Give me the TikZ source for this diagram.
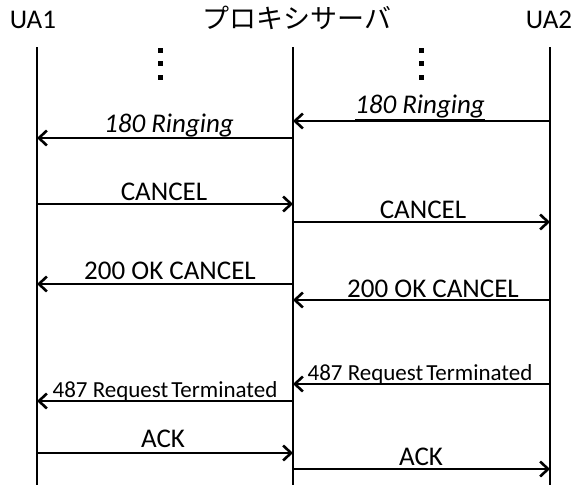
\documentclass[tikz,border=0pt]{standalone}
\usepackage{fontspec}
\setmainfont{Carlito}
\newfontfamily\jpfont{Noto Sans CJK JP}
\usetikzlibrary{arrows.meta}
\begin{document}
\begin{tikzpicture}[x=1pt,y=-1pt,
  life/.style={line width=2.2pt},
  msg/.style={line width=2.8pt,-{Straight Barb[length=8pt,width=15pt,line width=2.6pt]}},
  lbl/.style={font=\fontsize{27}{30}\selectfont,inner sep=0pt,anchor=base},
  hdr/.style={font=\fontsize{27}{30}\selectfont,inner sep=0pt,anchor=base},
  dot/.style={fill=black}]
\useasboundingbox (0,0) rectangle (580,485);
\fill[white] (0,0) rectangle (580,485);
% headers
\node[hdr] (h1) at (33,28) {UA1};
\node[hdr] (h2) at (297,28) {\jpfont プロキシサーバ};
\node[hdr] (h3) at (549,28) {UA2};
% lifelines
\coordinate (u1t) at (37,47);  \coordinate (u1b) at (37,485);
\coordinate (pt) at (293,47);  \coordinate (pb) at (293,485);
\coordinate (u2t) at (550,47); \coordinate (u2b) at (550,485);
\draw[life] (u1t) -- (u1b);
\draw[life] (pt) -- (pb);
\draw[life] (u2t) -- (u2b);
% vertical dots
\foreach \yy in {50,63,77}{
  \fill[dot] (158,\yy-2.5) rectangle (163,\yy+2.5);
  \fill[dot] (419,\yy-2.5) rectangle (424,\yy+2.5);
}
% 180 Ringing
\coordinate (m1s) at (550,121); \coordinate (m1e) at (293,121);
\draw[msg] (m1s) -- (m1e);
\node[lbl] (l1) at (420,113) {\itshape\underline{180 Ringing}};
\coordinate (m2s) at (293,138); \coordinate (m2e) at (37,138);
\draw[msg] (m2s) -- (m2e);
\node[lbl] (l2) at (169,132) {\itshape\underline{180 Ringing}};
% CANCEL
\coordinate (m3s) at (37,204); \coordinate (m3e) at (293,204);
\draw[msg] (m3s) -- (m3e);
\node[lbl] (l3) at (164,200) {CANCEL};
\coordinate (m4s) at (293,222); \coordinate (m4e) at (550,222);
\draw[msg] (m4s) -- (m4e);
\node[lbl] (l4) at (423,218) {CANCEL};
% 200 OK CANCEL
\coordinate (m5s) at (293,284); \coordinate (m5e) at (37,284);
\draw[msg] (m5s) -- (m5e);
\node[lbl] (l5) at (170,279) {200 OK CANCEL};
\coordinate (m6s) at (550,300); \coordinate (m6e) at (293,300);
\draw[msg] (m6s) -- (m6e);
\node[lbl] (l6) at (433,297) {200 OK CANCEL};
% 487
\coordinate (m7s) at (550,384); \coordinate (m7e) at (293,384);
\draw[msg] (m7s) -- (m7e);
\node[lbl,font=\fontsize{23}{27}\selectfont] (l7) at (420,380) {487 Request\hspace{-0.1em} Terminated};
\coordinate (m8s) at (293,401); \coordinate (m8e) at (37,401);
\draw[msg] (m8s) -- (m8e);
\node[lbl,font=\fontsize{23}{27}\selectfont] (l8) at (165,397) {487 Request\hspace{-0.1em} Terminated};
% ACK
\coordinate (m9s) at (37,453); \coordinate (m9e) at (293,453);
\draw[msg] (m9s) -- (m9e);
\node[lbl] (l9) at (163,447) {ACK};
\coordinate (m10s) at (293,469); \coordinate (m10e) at (550,469);
\draw[msg] (m10s) -- (m10e);
\node[lbl] (l10) at (421,465) {ACK};
\end{tikzpicture}
\end{document}
